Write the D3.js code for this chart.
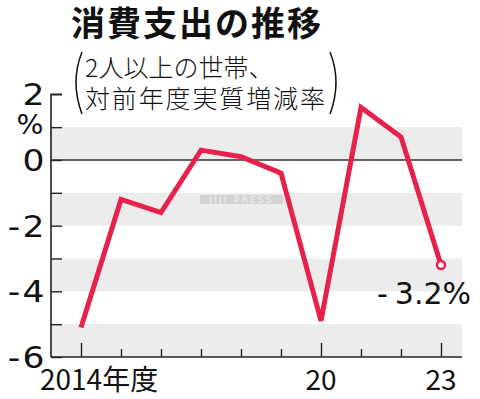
<!DOCTYPE html>
<html><head><meta charset="utf-8">
<script src="https://cdn.jsdelivr.net/npm/d3@7"></script>
<style>body{margin:0;background:#fff}svg{display:block}</style>
</head><body>
<script>
const years = [2014,2015,2016,2017,2018,2019,2020,2021,2022,2023];
const values = [-5.1,-1.2,-1.6,0.3,0.1,-0.4,-4.9,1.6,0.7,-3.2];
const yTicks = [2,0,-2,-4,-6];
const xLabels = [[2014,"2014年度"],[2020,"20"],[2023,"23"]];
const title = "消費支出の推移";
const sub1 = "2人以上の世帯、";
const sub2 = "対前年度実質増減率";
const lastLabel = ["-","3.2%"];

const W=480,H=399;
const svg=d3.select("body").append("svg").attr("width",W).attr("height",H);
const font="'Noto Sans CJK JP','Noto Sans',sans-serif";
const numFont="'DejaVu Sans',sans-serif";
const x=d3.scaleLinear().domain([2014,2023]).range([81,441]);
const y=d3.scaleLinear().domain([-6,2]).range([357,94.3]);
const left=51,right=462;

// bands
[[0,1],[-2,-1],[-4,-3],[-6,-5]].forEach(b=>{
  svg.append("rect").attr("x",left).attr("width",right-left)
    .attr("y",y(b[1])).attr("height",y(b[0])-y(b[1])).attr("fill","#ececec");
});
// watermark
svg.append("rect").attr("x",200).attr("y",195).attr("width",83).attr("height",9).attr("fill","#d2d2d2");
svg.append("text").attr("x",241.5).attr("y",203).attr("text-anchor","middle")
  .attr("font-family",numFont).attr("font-size",9).attr("letter-spacing",2.2)
  .attr("fill","#f0f0f0").text("JIJI PRESS");
// zero line
svg.append("line").attr("x1",left).attr("x2",right).attr("y1",y(0)).attr("y2",y(0))
  .attr("stroke","#333").attr("stroke-width",1.5);
// y axis
const ya=svg.append("g").attr("transform",`translate(${left},0)`)
  .call(d3.axisRight(y).tickValues(d3.range(-6,3,1)).tickSize(11).tickFormat(""));
ya.select(".domain").attr("stroke","#222").attr("stroke-width",1.6).attr("d",`M11,${y(2)}H0V${y(-6)}`);
ya.selectAll(".tick line").attr("stroke","#222").attr("stroke-width",1.4);
// y labels
const yl=svg.append("g").selectAll("text").data(yTicks).join("text")
  .attr("transform",d=>`translate(44.5,${y(d)+11}) scale(1.15,1)`).attr("text-anchor","end")
  .attr("font-family",numFont).attr("font-size",30).attr("fill","#111");
yl.each(function(d){
  const t=d3.select(this);
  if(d<0){ t.append("tspan").text("-"); t.append("tspan").attr("dx",2).text(String(-d)); }
  else t.text(d);
});
svg.append("text").attr("transform","translate(43.5,134) scale(1.05,1)").attr("text-anchor","end")
  .attr("font-family",numFont).attr("font-size",27).attr("fill","#111").text("%");
// x axis
const xa=svg.append("g").attr("transform",`translate(0,${y(-6)})`)
  .call(d3.axisTop(x).tickValues(years).tickSize(8).tickFormat(""));
xa.select(".domain").attr("stroke","#222").attr("stroke-width",1.6).attr("d",`M${left},0H${right}`);
xa.selectAll(".tick line").attr("stroke","#222").attr("stroke-width",1.4)
  .attr("y2",d=>[2014,2020,2023].includes(d)?-14:-8);
svg.append("g").selectAll("text").data(xLabels).join("text")
  .attr("x",d=>d[0]===2014?40:x(d[0])).attr("y",390)
  .attr("text-anchor",d=>d[0]===2014?"start":"middle")
  .attr("font-family",font).attr("font-size",28).attr("fill","#111").text(d=>d[1]);
// line
const line=d3.line().x((d,i)=>x(years[i])).y(d=>y(d));
svg.append("path").datum(values).attr("d",line).attr("fill","none")
  .attr("stroke","#e6224c").attr("stroke-width",5).attr("stroke-linejoin","miter");
svg.append("circle").attr("cx",x(2023)).attr("cy",y(-3.2)).attr("r",4)
  .attr("fill","#fff").attr("stroke","#e6224c").attr("stroke-width",2.5);
const lt=svg.append("text").attr("x",377).attr("y",304)
  .attr("font-family",numFont).attr("font-size",30).attr("fill","#111");
lt.append("tspan").text(lastLabel[0]);
lt.append("tspan").attr("dx",7).text(lastLabel[1]);
// title
svg.append("text").attr("x",71).attr("y",36).attr("font-family",font).attr("font-weight",700)
  .attr("font-size",34).attr("fill","#111").attr("textLength",250).text(title);
svg.append("text").attr("x",85).attr("y",77).attr("font-family",font).attr("font-weight",300)
  .attr("font-size",25).attr("fill","#111").text(sub1);
svg.append("text").attr("x",85).attr("y",108).attr("font-family",font).attr("font-weight",300)
  .attr("font-size",25).attr("fill","#111").attr("textLength",240).text(sub2);
// parentheses
svg.append("path").attr("d","M82,52 Q70,82 82,114").attr("fill","none").attr("stroke","#111").attr("stroke-width",1.5);
svg.append("path").attr("d","M330,52 Q342,82 330,114").attr("fill","none").attr("stroke","#111").attr("stroke-width",1.5);
</script>
</body></html>
